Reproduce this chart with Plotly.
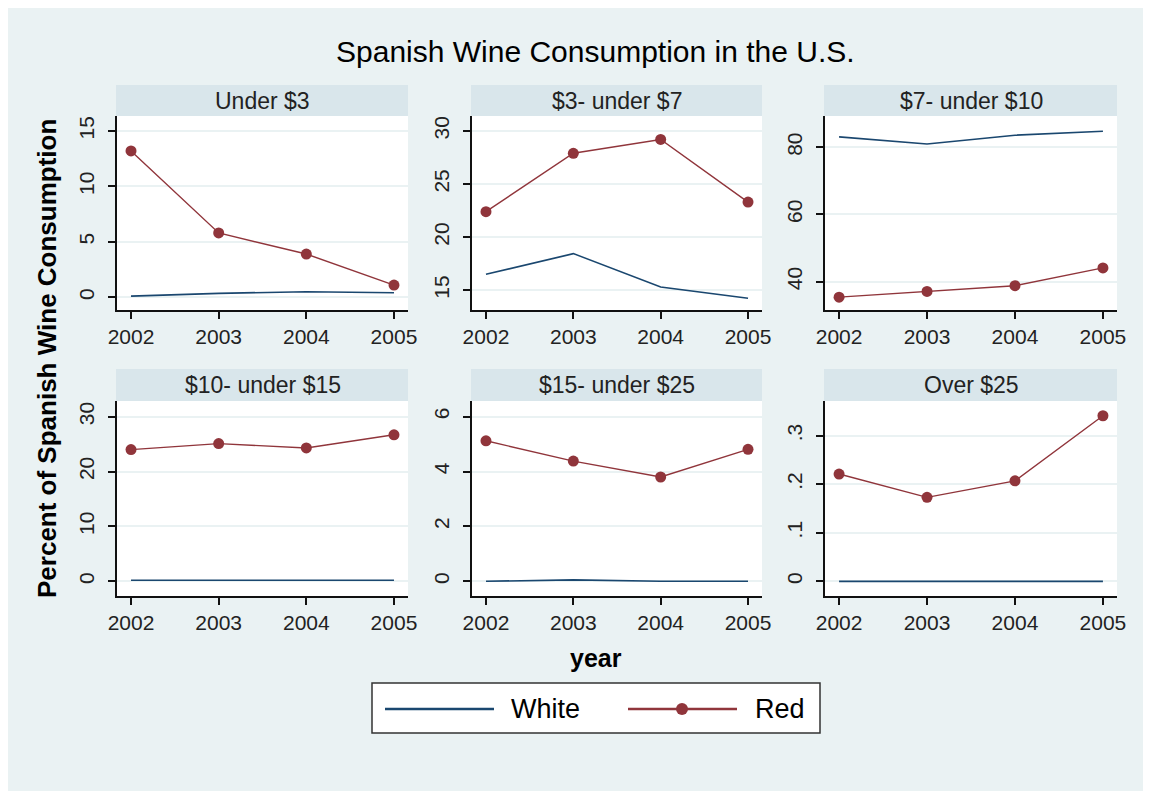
import plotly.graph_objects as go
from plotly.subplots import make_subplots

# the page body keeps its default 8px margin, so the figure is sized to fit
# inside the 1151x799 window without scrolling
OFF = 8
W, H = 1151 - 2 * OFF, 799 - 2 * OFF

years = [2002, 2003, 2004, 2005]
categories = ["Under $3", "$3- under $7", "$7- under $10",
              "$10- under $15", "$15- under $25", "Over $25"]

red_under3 = [13.2, 5.8, 3.9, 1.1]
red_3_7 = [22.4, 27.9, 29.2, 23.3]
red_7_10 = [35.4, 37.1, 38.8, 44.1]
red_10_15 = [24.0, 25.1, 24.3, 26.7]
red_15_25 = [5.12, 4.38, 3.80, 4.81]
red_over25 = [0.221, 0.173, 0.207, 0.341]

white_under3 = [0.1, 0.35, 0.5, 0.4]
white_3_7 = [16.5, 18.45, 15.3, 14.25]
white_7_10 = [83.1, 81.0, 83.6, 84.8]
white_10_15 = [0.2, 0.2, 0.2, 0.2]
white_15_25 = [0.0, 0.05, 0.0, 0.0]
white_over25 = [0.0, 0.0, 0.0, 0.0]

red_series = [red_under3, red_3_7, red_7_10, red_10_15, red_15_25, red_over25]
white_series = [white_under3, white_3_7, white_7_10, white_10_15, white_15_25, white_over25]

y_ticks = [[0, 5, 10, 15], [15, 20, 25, 30], [40, 60, 80],
           [0, 10, 20, 30], [0, 2, 4, 6], [0, 0.1, 0.2, 0.3]]
y_ticktext = [["0", "5", "10", "15"], ["15", "20", "25", "30"], ["40", "60", "80"],
              ["0", "10", "20", "30"], ["0", "2", "4", "6"], ["0", ".1", ".2", ".3"]]
y_ranges = [[-1.15, 16.35], [13.14, 31.41], [31.57, 89.32],
            [-2.68, 32.86], [-0.536, 6.57], [-0.0302, 0.3714]]

BG = "#EAF2F3"
STRIP = "#D9E6EB"
GRID = "#EAF2F3"
BLUE = "#1A476F"
RED = "#90353B"
FONT = "Arial, Liberation Sans, sans-serif"


def px_x(p):
    return (p - OFF) / W


def px_y(p):
    return 1 - (p - OFF) / H


# pixel boxes of the panels (window coordinates)
col_px = [(117, 408), (472, 762), (825, 1117)]
row_px = [(116, 310), (401, 596)]
strip_px = [(85, 116), (369, 401)]

fig = make_subplots(rows=2, cols=3, horizontal_spacing=0.05, vertical_spacing=0.1)

shapes = []
annotations = []
for i, cat in enumerate(categories):
    r, c = i // 3 + 1, i % 3 + 1
    fig.add_trace(go.Scatter(x=years, y=white_series[i], mode="lines",
                             line=dict(color=BLUE, width=1.6), name="White",
                             showlegend=False), row=r, col=c)
    fig.add_trace(go.Scatter(x=years, y=red_series[i], mode="lines+markers",
                             line=dict(color=RED, width=1.4),
                             marker=dict(color=RED, size=11, line=dict(width=0)),
                             name="Red", showlegend=False), row=r, col=c)
    x0, x1 = col_px[c - 1]
    y0, y1 = row_px[r - 1]
    fig.update_xaxes(domain=[px_x(x0), px_x(x1)], range=[2001.84, 2005.16],
                     tickvals=years, row=r, col=c)
    fig.update_yaxes(domain=[px_y(y1), px_y(y0)], range=y_ranges[i],
                     tickvals=y_ticks[i], ticktext=y_ticktext[i], row=r, col=c)
    s0, s1 = strip_px[r - 1]
    shapes.append(dict(type="rect", xref="paper", yref="paper",
                       x0=px_x(x0 - 1), x1=px_x(x1), y0=px_y(s1), y1=px_y(s0),
                       fillcolor=STRIP, line=dict(width=0), layer="above"))
    annotations.append(dict(text=cat, xref="paper", yref="paper",
                            x=px_x((x0 + x1) / 2), y=px_y((s0 + s1) / 2),
                            xanchor="center", yanchor="middle", showarrow=False,
                            font=dict(size=23, color="#222")))

fig.update_xaxes(showline=True, linecolor="#111", linewidth=1.5, showgrid=False,
                 zeroline=False, ticks="outside", ticklen=7, tickwidth=1.5,
                 tickcolor="#111", tickfont=dict(size=21, color="#222"),
                 automargin=False, fixedrange=True)
fig.update_yaxes(showline=True, linecolor="#111", linewidth=1.5, showgrid=True,
                 gridcolor=GRID, gridwidth=1.5, zeroline=False, ticks="outside",
                 ticklen=7, tickwidth=1.5, tickcolor="#111", tickangle=-90,
                 ticklabelstandoff=6, automargin=False,
                 tickfont=dict(size=21, color="#222"), fixedrange=True)

# legend box drawn by hand
shapes += [
    dict(type="rect", xref="paper", yref="paper", x0=px_x(372), x1=px_x(820),
         y0=px_y(733), y1=px_y(683), fillcolor="white",
         line=dict(color="#333", width=1.5)),
    dict(type="line", xref="paper", yref="paper", x0=px_x(385), x1=px_x(494),
         y0=px_y(709), y1=px_y(709), line=dict(color=BLUE, width=2.5)),
    dict(type="line", xref="paper", yref="paper", x0=px_x(628), x1=px_x(737),
         y0=px_y(709), y1=px_y(709), line=dict(color=RED, width=2.5)),
    dict(type="circle", xref="paper", yref="paper", x0=px_x(676), x1=px_x(688),
         y0=px_y(715), y1=px_y(703), fillcolor=RED, line=dict(width=0)),
]
annotations += [
    dict(text="White", xref="paper", yref="paper", x=px_x(509), y=px_y(709),
         xanchor="left", yanchor="middle", showarrow=False,
         font=dict(size=27, color="black")),
    dict(text="Red", xref="paper", yref="paper", x=px_x(753), y=px_y(709),
         xanchor="left", yanchor="middle", showarrow=False,
         font=dict(size=27, color="black")),
    dict(text="Spanish Wine Consumption in the U.S.", xref="paper", yref="paper",
         x=px_x(595), y=px_y(52), xanchor="center", yanchor="middle",
         showarrow=False, font=dict(size=30, color="black")),
    dict(text="<b>year</b>", xref="paper", yref="paper", x=px_x(596), y=px_y(658),
         xanchor="center", yanchor="middle", showarrow=False,
         font=dict(size=25, color="black")),
    dict(text="<b>Percent of Spanish Wine Consumption</b>", xref="paper",
         yref="paper", x=px_x(47), y=px_y(359), xanchor="center",
         yanchor="middle", textangle=-90, showarrow=False,
         font=dict(size=26, color="black")),
]

fig.update_layout(
    width=W,
    height=H,
    margin=dict(l=0, r=0, t=0, b=0, pad=0, autoexpand=False),
    paper_bgcolor=BG,
    plot_bgcolor="white",
    font=dict(family=FONT),
    showlegend=False,
    hovermode=False,
    shapes=shapes,
    annotations=annotations,
)

fig.write_html("out.html", config={"displayModeBar": False})
